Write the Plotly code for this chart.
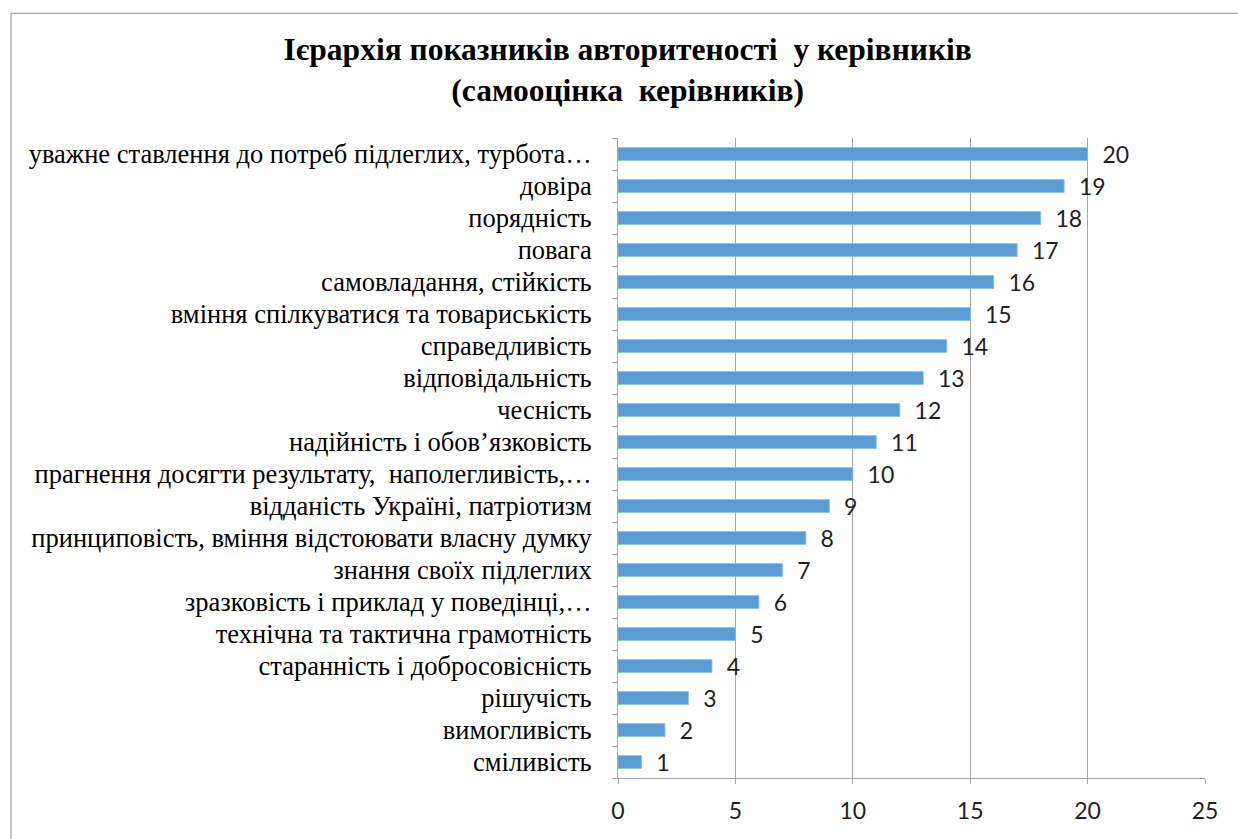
import plotly.graph_objects as go

# Categories listed bottom-to-top, with the score of each indicator
categories = [
    "сміливість",
    "вимогливість",
    "рішучість",
    "старанність і добросовісність",
    "технічна та тактична грамотність",
    "зразковість і приклад у поведінці,…",
    "знання своїх підлеглих",
    "принциповість, вміння відстоювати власну думку",
    "відданість Україні, патріотизм",
    "прагнення досягти результату,  наполегливість,…",
    "надійність і обов’язковість",
    "чесність",
    "відповідальність",
    "справедливість",
    "вміння спілкуватися та товариськість",
    "самовладання, стійкість",
    "повага",
    "порядність",
    "довіра",
    "уважне ставлення до потреб підлеглих, турбота…",
]
values = [1, 2, 3, 4, 5, 6, 7, 8, 9, 10, 11, 12, 13, 14, 15, 16, 17, 18, 19, 20]
x_ticks = [0, 5, 10, 15, 20, 25]

title_text = ("<b>Ієрархія показників авторитеності  у керівників</b><br>"
              "<b>(самооцінка  керівників)</b>")

serif = "Liberation Serif, Times New Roman, serif"
sans = "Lato, Open Sans, sans-serif"
bar_color = "#5B9BD5"
grid_color = "#A6A6A6"

fig = go.Figure(
    go.Bar(
        x=values,
        y=categories,
        orientation="h",
        width=0.4,
        marker=dict(color=bar_color, line=dict(color="#8DB9E4", width=0.8)),
        texttemplate="\u00a0\u00a0%{x}",
        textposition="outside",
        constraintext="none",
        cliponaxis=False,
        textfont=dict(family=sans, size=23, color="#1F1F1F"),
        hoverinfo="x+y",
    )
)

fig.update_layout(
    width=1238,
    height=839,
    margin=dict(l=618, r=33, t=138, b=61),
    paper_bgcolor="white",
    plot_bgcolor="white",
    showlegend=False,
    title=dict(
        text=title_text,
        x=0.507,
        xanchor="center",
        y=0.928,
        yanchor="top",
        font=dict(family=serif, size=31.5, color="#000000"),
    ),
    xaxis=dict(
        range=[0, 25],
        tickvals=x_ticks,
        showgrid=True,
        gridcolor=grid_color,
        gridwidth=1,
        zeroline=False,
        showline=True,
        linecolor=grid_color,
        ticks="outside",
        ticklen=5,
        tickcolor=grid_color,
        tickfont=dict(family=sans, size=23, color="#1F1F1F"),
        ticklabelstandoff=7,
        fixedrange=True,
    ),
    yaxis=dict(
        type="category",
        showgrid=False,
        showline=True,
        linecolor=grid_color,
        ticks="outside",
        tickson="boundaries",
        ticklen=5,
        tickcolor=grid_color,
        tickfont=dict(family=serif, size=26.5, color="#000000"),
        ticklabelstandoff=20,
        fixedrange=True,
    ),
    shapes=[
        dict(
            type="rect",
            xref="paper",
            yref="paper",
            x0=-1.034,
            x1=1.2,
            y0=-0.3,
            y1=1.195,
            line=dict(color="#8C8C8C", width=1),
            fillcolor="rgba(0,0,0,0)",
            layer="below",
        )
    ],
)

fig.write_html("out.html")
